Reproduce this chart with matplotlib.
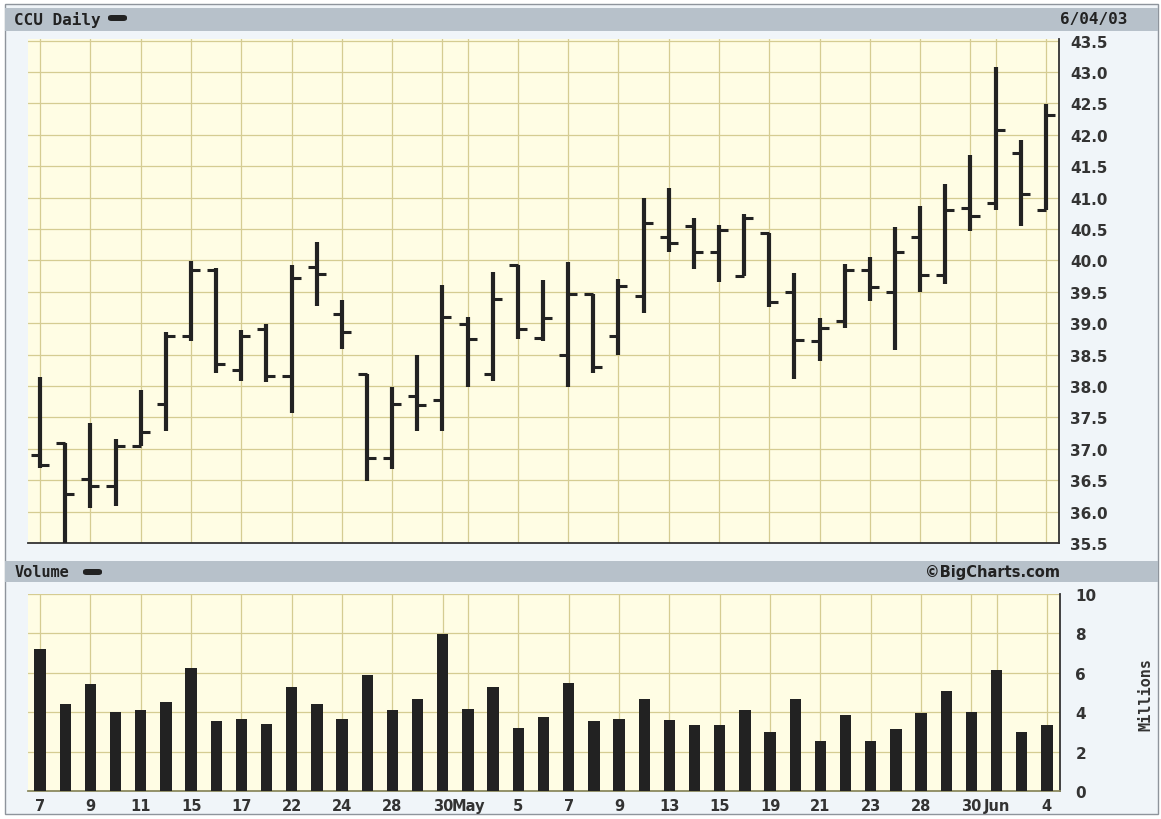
import matplotlib
matplotlib.use('Agg')
import matplotlib.pyplot as plt
from matplotlib.patches import Rectangle, FancyBboxPatch

# CCU daily, 7 Apr 2003 - 4 Jun 2003 (trading days)
days = ['04-07', '04-08', '04-09', '04-10', '04-11', '04-14', '04-15', '04-16', '04-17',
        '04-21', '04-22', '04-23', '04-24', '04-25', '04-28', '04-29', '04-30',
        '05-01', '05-02', '05-05', '05-06', '05-07', '05-08', '05-09', '05-12', '05-13',
        '05-14', '05-15', '05-16', '05-19', '05-20', '05-21', '05-22', '05-23', '05-27',
        '05-28', '05-29', '05-30', '06-02', '06-03', '06-04']
opens = [36.90, 37.10, 36.52, 36.41, 37.05, 37.71, 38.80, 39.84, 38.25, 38.91, 38.16,
         39.90, 39.15, 38.19, 36.85, 37.84, 37.78, 38.98, 38.19, 39.92, 38.76, 38.49,
         39.47, 38.80, 39.44, 40.38, 40.54, 40.13, 39.75, 40.43, 39.49, 38.71, 39.03,
         39.85, 39.49, 40.37, 39.76, 40.83, 40.91, 41.71, 40.80]
highs = [38.15, 37.10, 37.41, 37.16, 37.94, 38.86, 39.99, 39.88, 38.89, 38.99, 39.92,
         40.29, 39.37, 38.19, 37.98, 38.49, 39.61, 39.10, 39.82, 39.92, 39.68, 39.97,
         39.47, 39.71, 40.99, 41.15, 40.68, 40.57, 40.74, 40.43, 39.80, 39.08, 39.95,
         40.06, 40.53, 40.86, 41.22, 41.68, 43.08, 41.91, 42.49]
lows = [36.69, 35.45, 36.05, 36.09, 37.04, 37.29, 38.71, 38.21, 38.08, 38.06, 37.57,
        39.28, 38.59, 36.48, 36.68, 37.29, 37.29, 37.99, 38.08, 38.75, 38.72, 37.99,
        38.21, 38.49, 39.16, 40.13, 39.87, 39.66, 39.75, 39.26, 38.11, 38.39, 38.92,
        39.36, 38.57, 39.49, 39.62, 40.46, 40.80, 40.55, 40.80]
closes = [36.74, 36.28, 36.41, 37.05, 37.27, 38.80, 39.84, 38.35, 38.80, 38.16, 39.72,
          39.78, 38.86, 36.85, 37.71, 37.69, 39.10, 38.75, 39.39, 38.91, 39.08, 39.47,
          38.31, 39.60, 40.60, 40.28, 40.13, 40.49, 40.67, 39.33, 38.73, 38.93, 39.85,
          39.57, 40.13, 39.76, 40.81, 40.70, 42.08, 41.06, 42.32]
volume = [7.23, 4.43, 5.42, 4.00, 4.11, 4.50, 6.24, 3.53, 3.68, 3.38, 5.27, 4.43, 3.68,
          5.90, 4.11, 4.65, 7.98, 4.18, 5.27, 3.21, 3.77, 5.49, 3.53, 3.68, 4.65, 3.62,
          3.36, 3.36, 4.09, 2.97, 4.67, 2.54, 3.85, 2.54, 3.14, 3.97, 5.10, 4.03, 6.15,
          2.97, 3.36]

tick_pos = [0, 2, 4, 6, 8, 10, 12, 14, 16, 17, 19, 21, 23, 25, 27, 29, 31, 33, 35, 37, 38, 40]
tick_text = ['7', '9', '11', '15', '17', '22', '24', '28', '30', 'May', '5', '7', '9', '13',
             '15', '19', '21', '23', '28', '30', 'Jun', '4']
price_ticks = [35.5 + 0.5 * k for k in range(17)]
vol_ticks = [0, 2, 4, 6, 8, 10]

W, H = 1161, 820
PLOT_BG = '#fffde4'
GRID = '#d5cc92'
PANEL_BG = '#f0f5f9'
BAND = '#b7c1ca'
INK = '#222222'
TXT = '#333333'
MONO = 'DejaVu Sans Mono'


def fx(px):
    return px / W


def fy(py):
    return 1 - py / H


def fig_rect(fig, x0, y0, x1, y1, **kw):
    fig.patches.append(Rectangle((fx(x0), fy(y1)), (x1 - x0) / W, (y1 - y0) / H,
                                 transform=fig.transFigure, **kw))


def dash(fig, x0, y0, x1, y1):
    fig.patches.append(FancyBboxPatch((fx(x0), fy(y1)), (x1 - x0) / W, (y1 - y0) / H,
                                      boxstyle='round,pad=0,rounding_size=0.003',
                                      transform=fig.transFigure, facecolor=INK,
                                      edgecolor='none', zorder=3))


fig = plt.figure(figsize=(W / 100, H / 100), dpi=100)
fig.patch.set_facecolor('white')

# panel background, header bands (behind the axes)
fig_rect(fig, 5, 5, 1158, 815, facecolor=PANEL_BG, edgecolor='#8e949c', lw=1.0, zorder=-2)
fig_rect(fig, 5, 9, 1158, 32, facecolor=BAND, edgecolor='none', zorder=-1)
fig_rect(fig, 5, 562, 1158, 583, facecolor=BAND, edgecolor='none', zorder=-1)

fig.text(fx(14), fy(19.5), 'CCU Daily', family=MONO, weight='bold', fontsize=11.5,
         color=INK, va='center', ha='left')
dash(fig, 108, 16, 127, 22)
fig.text(fx(1127), fy(19.5), '6/04/03', family=MONO, weight='bold', fontsize=11.5,
         color=INK, va='center', ha='right')
fig.text(fx(15), fy(572.5), 'Volume', family=MONO, weight='bold', fontsize=11,
         color=INK, va='center', ha='left')
dash(fig, 83, 570, 102, 576)
fig.text(fx(1060), fy(572.5), '\u00a9BigCharts.com', family='DejaVu Sans', weight='bold',
         fontsize=10.5, color=INK, va='center', ha='right')
fig.text(fx(1146), fy(695), 'Millions', family=MONO, weight='bold', fontsize=11,
         color=TXT, va='center', ha='center', rotation=90)

x = list(range(len(days)))

# price panel
ax = fig.add_axes([fx(28), fy(544), (1059 - 28) / W, (544 - 40) / H])
ax.set_facecolor(PLOT_BG)
ax.vlines(x, lows, highs, color=INK, lw=3.0, zorder=3)
ax.hlines(opens, [i - 0.36 for i in x], x, color=INK, lw=2.2, zorder=3)
ax.hlines(closes, x, [i + 0.36 for i in x], color=INK, lw=2.2, zorder=3)
ax.set_xlim(-0.48, 40.52)
ax.set_ylim(35.5, 43.525)
ax.set_yticks(price_ticks)
ax.set_yticklabels(['%.1f' % p for p in price_ticks])
ax.set_xticks(tick_pos)
ax.tick_params(axis='x', labelbottom=False, length=0)
ax.yaxis.tick_right()
ax.tick_params(axis='y', length=0, pad=8, labelsize=11, labelcolor=TXT)
for lab in ax.get_yticklabels():
    lab.set_family('DejaVu Sans')
    lab.set_weight('bold')
ax.grid(True, color=GRID, lw=0.9, zorder=1)
for s in ['left', 'top']:
    ax.spines[s].set_visible(False)
for s in ['right', 'bottom']:
    ax.spines[s].set_color('#333333')
    ax.spines[s].set_linewidth(1.3)

# volume panel
vx = fig.add_axes([fx(28), fy(792), (1060 - 28) / W, (792 - 595) / H])
vx.set_facecolor(PLOT_BG)
vx.bar(x, volume, width=0.45, color=INK, zorder=3)
vx.set_xlim(-0.48, 40.52)
vx.set_ylim(0, 10)
vx.set_yticks(vol_ticks)
vx.set_xticks(tick_pos)
vx.set_xticklabels(tick_text)
vx.yaxis.tick_right()
vx.tick_params(axis='y', length=0, pad=11, labelsize=11, labelcolor=TXT)
vx.tick_params(axis='x', length=0, pad=5, labelsize=10.5, labelcolor=TXT)
for lab in vx.get_yticklabels() + vx.get_xticklabels():
    lab.set_family('DejaVu Sans')
    lab.set_weight('bold')
vx.grid(True, color=GRID, lw=0.9, zorder=1)
for s in ['left', 'top']:
    vx.spines[s].set_visible(False)
vx.spines['right'].set_color('#333333')
vx.spines['right'].set_linewidth(1.3)
vx.spines['bottom'].set_color('#8c8a60')
vx.spines['bottom'].set_linewidth(1.3)

fig.savefig('out.png', dpi=100, facecolor=fig.get_facecolor())
